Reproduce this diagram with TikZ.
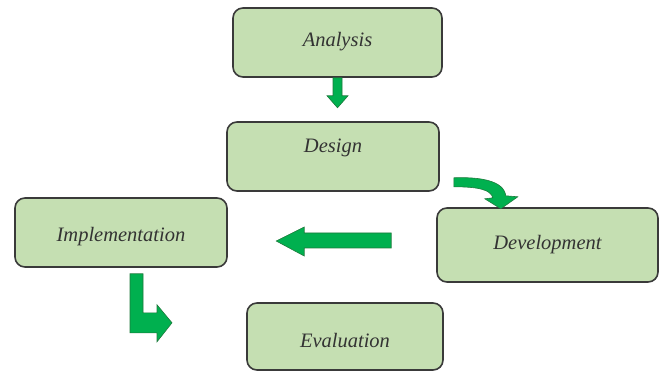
\documentclass[tikz,border=0pt]{standalone}
\usepackage{fontspec}
\setmainfont{Liberation Serif}
\definecolor{boxfill}{HTML}{C5DFB2}
\definecolor{boxline}{HTML}{3A3A3A}
\definecolor{arrfill}{HTML}{00B04F}
\definecolor{arrline}{HTML}{1E7A3C}
\definecolor{txt}{HTML}{333333}
\newcommand{\boxtxt}[2]{\raisebox{#1}[0pt][0pt]{#2}}
\begin{document}
\begin{tikzpicture}[x=1pt,y=-1pt,
  stagebox/.style={draw=boxline,line width=1.6pt,fill=boxfill,rounded corners=10pt,
    text=txt,font=\fontsize{20.5}{24}\selectfont\itshape,inner sep=0pt},
  blockarrow/.style={fill=arrfill,draw=arrline,line width=0.6pt,line join=miter}]
\useasboundingbox (0,0) rectangle (659,374);
\node[stagebox,minimum width=209pt,minimum height=69pt] (an) at (337.5,42.5) {\boxtxt{-4.5pt}{Analysis}};
\node[stagebox,minimum width=212pt,minimum height=69pt] (de) at (333,156.5) {\boxtxt{3.5pt}{Design}};
\node[stagebox,minimum width=221pt,minimum height=74pt] (dv) at (547.5,245) {\boxtxt{-5pt}{Development}};
\node[stagebox,minimum width=212pt,minimum height=69pt] (im) at (121,232.5) {\boxtxt{-9.5pt}{Implementation}};
\node[stagebox,minimum width=196pt,minimum height=67pt] (ev) at (345,336.5) {\boxtxt{-10.5pt}{Evaluation}};
% Analysis -> Design
\begin{scope}[shift={(an.south)}]
\filldraw[blockarrow] (-4.5,0) -- (4.5,0) -- (4.5,18) -- (10.5,18) -- (0,30) -- (-10.5,18) -- (-4.5,18) -- cycle;
\end{scope}
% Design -> Development (curved)
\begin{scope}[shift={(de.south east)}]
\filldraw[blockarrow] (14,-14) .. controls (41,-15) and (64,-11) .. (66,4) -- (78,5) -- (61,17) -- (45,7) -- (53,6) .. controls (51,-2) and (39,-5) .. (14,-5) -- cycle;
\end{scope}
% Development -> Implementation
\begin{scope}[shift={(dv.west)}]
\filldraw[blockarrow] (-160,-4) -- (-132,-18) -- (-132,-12) -- (-45,-12) -- (-45,3) -- (-132,3) -- (-132,11) -- cycle;
\end{scope}
% Implementation -> Evaluation (L-shaped)
\begin{scope}[shift={(im.south)}]
\filldraw[blockarrow] (9,6) -- (22,6) -- (22,45) -- (36,45) -- (36,37) -- (51,55) -- (36,74) -- (36,65) -- (9,65) -- cycle;
\end{scope}
\end{tikzpicture}
\end{document}
